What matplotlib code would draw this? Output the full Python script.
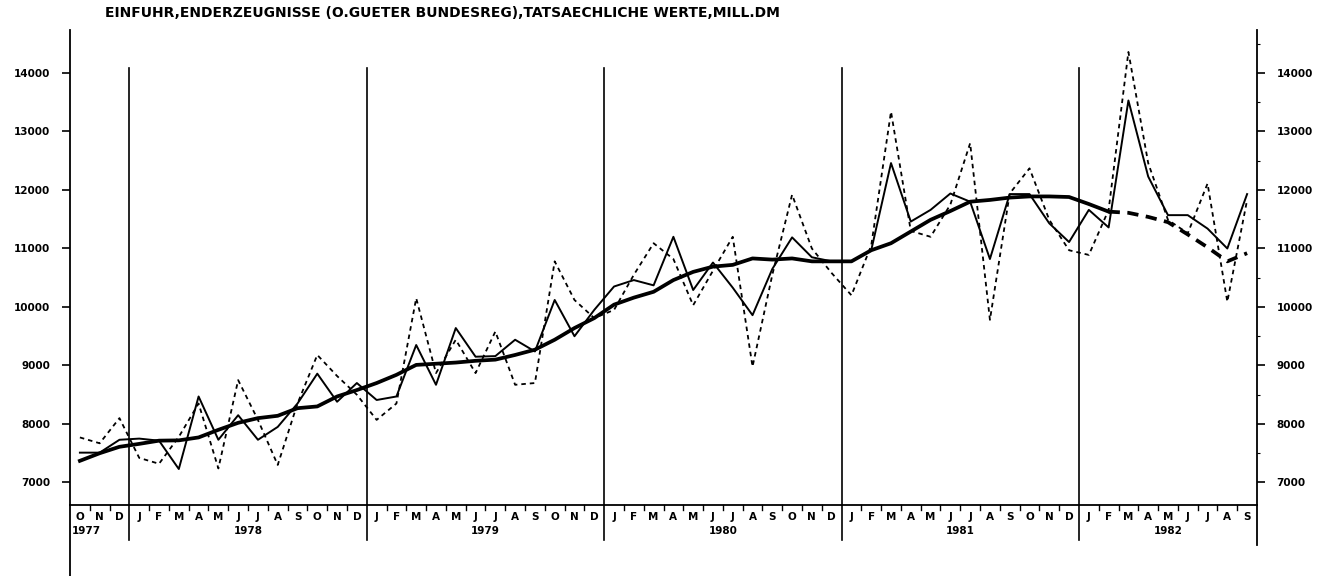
import numpy as np
import matplotlib.pyplot as plt
from matplotlib.ticker import MultipleLocator

# Einfuhr Enderzeugnisse, Okt 1977 - Sep 1982 (Mill. DM)
raw_values = [7770, 7670, 8100,
              7420, 7320, 7780, 8350, 7240, 8750, 8070, 7300, 8350, 9180, 8820, 8500,
              8070, 8350, 10150, 8870, 9440, 8870, 9580, 8670, 8700, 10780, 10120, 9810,
              9950, 10550, 11090, 10820, 10030, 10620, 11200, 8980, 10550, 11920, 11000, 10580,
              10200, 11050, 13340, 11300, 11200, 11750, 12800, 9780, 11940, 12370, 11490, 10970,
              10890, 11660, 14360, 12460, 11490, 11260, 12110, 10090, 11830]
adjusted_values = [7510, 7510, 7730,
                   7750, 7715, 7230, 8470, 7730, 8150, 7730, 7950, 8350, 8860, 8380, 8700,
                   8410, 8470, 9350, 8670, 9640, 9150, 9160, 9440, 9240, 10120, 9500, 9950,
                   10350, 10460, 10370, 11200, 10290, 10760, 10330, 9860, 10650, 11190, 10850, 10780,
                   10780, 10970, 12460, 11460, 11660, 11940, 11800, 10820, 11930, 11930, 11430, 11110,
                   11660, 11360, 13530, 12230, 11570, 11570, 11340, 11000, 11930]
trend_values = [7370, 7500, 7610,
                7660, 7715, 7720, 7770, 7900, 8020, 8100, 8140, 8270, 8300, 8470, 8580,
                8700, 8840, 9010, 9030, 9050, 9080, 9100, 9180, 9270, 9440, 9640, 9810,
                10040, 10160, 10260, 10460, 10600, 10690, 10720, 10830, 10810, 10830, 10780, 10780,
                10780, 10970, 11090, 11290, 11490, 11640, 11800, 11830, 11870, 11890, 11890, 11880,
                11760, 11630]
# Trend-Fortschreibung (gestrichelt) ab Feb 1982
trend_ext_values = [11630, 11610, 11540, 11450, 11240, 11020, 10780, 10920]
trend_ext_start = 52

month_letters = list("JFMAMJJASOND")
month_labels = month_letters[9:] + month_letters * 4 + month_letters[:9]
year_labels = ["1977", "1978", "1979", "1980", "1981", "1982"]
year_starts = [0, 3, 15, 27, 39, 51]
y_ticks = [7000, 8000, 9000, 10000, 11000, 12000, 13000, 14000]

title = "EINFUHR,ENDERZEUGNISSE (O.GUETER BUNDESREG),TATSAECHLICHE WERTE,MILL.DM"

W, H = 1336, 576


def fx(px):
    return px / W


def fy(py):
    return 1 - py / H


plt.rcParams['font.family'] = ['DejaVu Sans']

fig = plt.figure(figsize=(W / 100, H / 100), dpi=100)
fig.patch.set_facecolor('white')

# Hauptdiagramm
ax = fig.add_axes([fx(70), fy(505), fx(1257) - fx(70), fy(30) - fy(505)])
n = len(month_labels)
ax.set_xlim(0, n)
ax.set_ylim(6615, 14735)

x = np.arange(n) + 0.5
ax.plot(x, raw_values, color='black', lw=1.3, linestyle=(0, (2.5, 2.2)), zorder=3)
ax.plot(x, adjusted_values, color='black', lw=1.4, zorder=4)
ax.plot(x[:len(trend_values)], trend_values, color='black', lw=2.7,
        solid_joinstyle='round', zorder=5)
x_ext = x[trend_ext_start:trend_ext_start + len(trend_ext_values)]
ax.plot(x_ext, trend_ext_values, color='black', lw=2.7, linestyle=(0, (3, 2)), zorder=5)

# Jahrestrennlinien
for ys in year_starts[1:]:
    ax.plot([ys, ys], [14085, 6615], color='black', lw=1.2, zorder=2, clip_on=False)

ax.spines['top'].set_visible(False)
for side in ['left', 'right', 'bottom']:
    ax.spines[side].set_linewidth(1.3)

ax.set_xticks([])
ax.set_yticks(y_ticks)
ax.set_yticklabels([str(v) for v in y_ticks])
ax.yaxis.set_minor_locator(MultipleLocator(500))
ax.tick_params(axis='y', which='major', left=True, right=True, labelleft=True,
               labelright=True, direction='out', length=6, width=1.2, pad=8,
               labelsize=7.5)
ax.tick_params(axis='y', which='minor', left=False, right=True, direction='out',
               length=2.5, width=0.8)
for lab in ax.get_yticklabels():
    lab.set_fontweight('bold')

# Monatsleiste
band = fig.add_axes([fx(70), 0, fx(1257) - fx(70), fy(505)])
band.set_xlim(0, n)
band.set_ylim(576, 505)
band.axis('off')

band.plot([0, 0], [505, 576], color='black', lw=1.3, clip_on=False)
band.plot([n, n], [505, 545], color='black', lw=1.3, clip_on=False)
for ys in year_starts[1:]:
    band.plot([ys, ys], [505, 540], color='black', lw=1.2, clip_on=False)
for k in range(1, n):
    if k not in year_starts:
        band.plot([k, k], [505, 510], color='black', lw=1.0, clip_on=False)

for i, lab in enumerate(month_labels):
    band.text(i + 0.5, 517, lab, ha='center', va='center', fontsize=7.5,
              fontweight='bold')

year_ends = year_starts[1:] + [n]
for k, (ys, ye) in enumerate(zip(year_starts, year_ends)):
    if k == 0:
        band.text(ys + 0.1, 531, year_labels[k], ha='left', va='center',
                  fontsize=7.5, fontweight='bold')
    else:
        band.text((ys + ye) / 2, 531, year_labels[k], ha='center', va='center',
                  fontsize=7.5, fontweight='bold')

fig.text(fx(105), fy(13), title, ha='left', va='center', fontsize=10,
         fontweight='bold')

fig.savefig('out.png', dpi=100, facecolor='white')
plt.close(fig)
